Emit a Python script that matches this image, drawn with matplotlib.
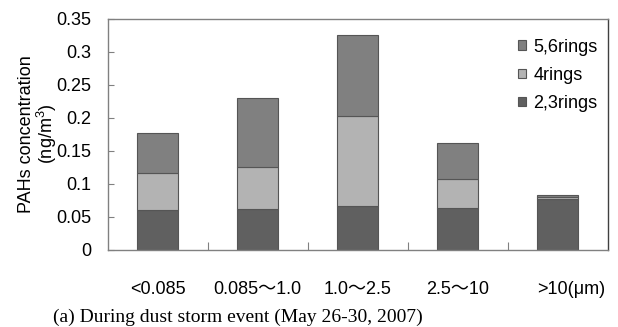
import matplotlib
matplotlib.use("Agg")
import matplotlib.pyplot as plt
from matplotlib.transforms import ScaledTranslation
import numpy as np

plt.rcParams['font.family'] = ['Liberation Sans', 'Noto Sans CJK JP', 'DejaVu Sans']
plt.rcParams['mathtext.default'] = 'regular'

categories = ['<0.085', '0.085～1.0', '1.0～2.5', '2.5～10', '>10(μm)']
rings_23 = [0.0605, 0.0616, 0.067, 0.063, 0.0767]
rings_4 = [0.0565, 0.064, 0.1363, 0.0444, 0.0033]
rings_56 = [0.0596, 0.104, 0.1225, 0.054, 0.003]
yticks = [0, 0.05, 0.1, 0.15, 0.2, 0.25, 0.3, 0.35]
ytick_labels = ['0', '0.05', '0.1', '0.15', '0.2', '0.25', '0.3', '0.35']

fig = plt.figure(figsize=(6.18, 3.27), dpi=100)
ax = fig.add_axes([0.1743, 0.2355, 0.809, 0.7073])

x = np.arange(len(categories))
w = 0.41
edge = '#555555'
c23, c4, c56 = '#606060', '#b3b3b3', '#808080'

b1 = ax.bar(x, rings_23, w, color=c23, edgecolor=edge, linewidth=0.8, label='2,3rings')
b2 = ax.bar(x, rings_4, w, bottom=rings_23, color=c4, edgecolor=edge, linewidth=0.8, label='4rings')
bottom2 = np.array(rings_23) + np.array(rings_4)
b3 = ax.bar(x, rings_56, w, bottom=bottom2, color=c56, edgecolor=edge, linewidth=0.8, label='5,6rings')

ax.set_xlim(-0.5, len(categories) - 0.5)
ax.set_ylim(0, 0.35)
ax.set_yticks(yticks)
ax.set_yticklabels(ytick_labels)
ax.set_xticks(x)
ax.set_xticklabels(categories)
ax.set_xticks(x[:-1] + 0.5, minor=True)

ax.tick_params(axis='y', direction='in', length=4, width=0.8, color='#808080',
               labelsize=13, pad=12)
ax.tick_params(axis='x', which='major', length=0, labelsize=13, pad=22)
ax.tick_params(axis='x', which='minor', direction='in', length=6, width=0.8, color='#808080')

# the unit hangs off the last label, so shift it right
last = ax.get_xticklabels()[-1]
last.set_transform(last.get_transform() + ScaledTranslation(0.14, 0, fig.dpi_scale_trans))

for s in ax.spines.values():
    s.set_color('#808080')
    s.set_linewidth(1.0)
ax.spines['right'].set_color('#404040')

leg = ax.legend([b3, b2, b1], ['5,6rings', '4rings', '2,3rings'],
                loc='upper left', bbox_to_anchor=(0.806, 0.945), frameon=False,
                fontsize=13, handlelength=0.45, handleheight=0.45,
                handletextpad=0.4, labelspacing=0.62, borderaxespad=0)

fig.text(0.062, 0.59, 'PAHs concentration\n(ng/m$^3$)', rotation=90,
         ha='center', va='center', fontsize=13, linespacing=1.0)

fig.text(0.385, 0.004, '(a) During dust storm event (May 26-30, 2007)',
         ha='center', va='bottom', fontsize=14, family='Liberation Serif')

fig.savefig('out.png', dpi=100)
